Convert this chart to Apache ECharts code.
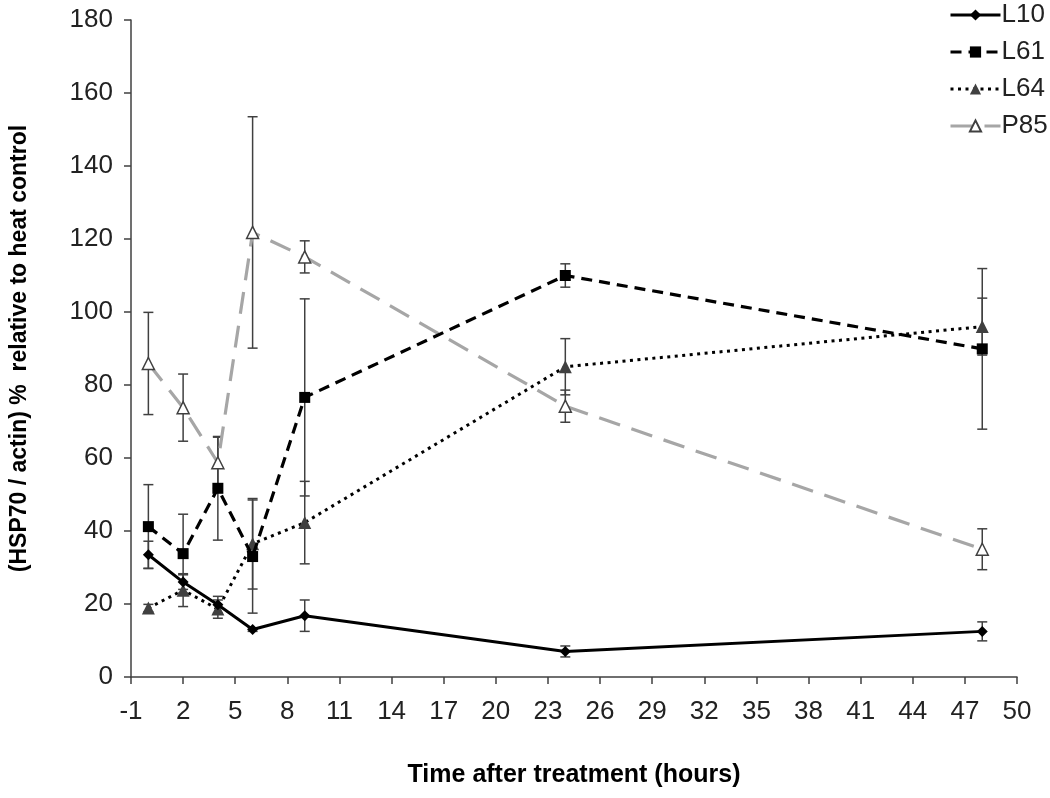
<!DOCTYPE html>
<html>
<head>
<meta charset="utf-8">
<script src="https://cdn.jsdelivr.net/npm/echarts@6/dist/echarts.min.js"></script>
<style>
html,body{margin:0;padding:0;background:#fff;}
#chart{width:1050px;height:798px;}
</style>
</head>
<body>
<div id="chart"></div>
<script>
// ---- data ----
var times = [0, 2, 4, 6, 9, 24, 48];
var xTicks = [-1, 2, 5, 8, 11, 14, 17, 20, 23, 26, 29, 32, 35, 38, 41, 44, 47, 50];
var L10 = [33.5, 26, 19.8, 13, 16.8, 7, 12.5];
var L10err = [3.7, 2, 2.3, 0.5, 4.3, 1.5, 2.6];
var L61 = [41.2, 33.8, 51.7, 33, 76.6, 110, 89.9];
var L61err = [11.5, 10.8, 14.2, 15.5, 27, 3.2, 22];
var L64 = [18.9, 23.8, 18.6, 36.5, 42.3, 85, 96];
var L64err = [1, 4.5, 2.5, 12.4, 11.3, 7.7, 7.8];
var P85 = [85.9, 73.8, 58.7, 121.8, 115.1, 74.2, 35];
var P85err = [14, 9.2, 7, 31.7, 4.4, 4.4, 5.6];
var seriesNames = ['L10', 'L61', 'L64', 'P85'];

function pts(vals) { return times.map(function (t, i) { return [t, vals[i]]; }); }
function errs(vals, e) { return times.map(function (t, i) { return [t, vals[i] - e[i], vals[i] + e[i]]; }); }

function errSeries(vals, e) {
  return {
    type: 'custom',
    data: errs(vals, e),
    encode: { x: 0, y: [1, 2] },
    silent: true,
    z: 1,
    renderItem: function (params, api) {
      var x = api.value(0);
      var lo = api.coord([x, api.value(1)]);
      var hi = api.coord([x, api.value(2)]);
      var w = 5;
      var st = { stroke: '#404040', lineWidth: 1.5, fill: null };
      return {
        type: 'group',
        children: [
          { type: 'line', shape: { x1: lo[0], y1: lo[1], x2: hi[0], y2: hi[1] }, style: st },
          { type: 'line', shape: { x1: lo[0] - w, y1: lo[1], x2: lo[0] + w, y2: lo[1] }, style: st },
          { type: 'line', shape: { x1: hi[0] - w, y1: hi[1], x2: hi[0] + w, y2: hi[1] }, style: st }
        ]
      };
    }
  };
}

var chart = echarts.init(document.getElementById('chart'), null, { renderer: 'canvas' });
var axisText = { color: '#222', fontSize: 26, fontFamily: 'Liberation Sans, Arial, sans-serif' };
var option = {
  animation: false,
  backgroundColor: '#fff',
  grid: { left: 130, right: 33, top: 20, bottom: 121, containLabel: false },
  legend: {
    orient: 'vertical',
    left: 944,
    top: -3,
    itemWidth: 50,
    itemHeight: 14,
    itemGap: 11,
    lineStyle: { width: 3 },
    textStyle: { color: '#222', fontSize: 26, fontFamily: 'Liberation Sans, Arial, sans-serif', padding: [0, 0, 0, -4] },
    data: seriesNames
  },
  xAxis: {
    type: 'value',
    min: -1,
    max: 50,
    name: 'Time after treatment (hours)',
    nameLocation: 'middle',
    nameGap: 86,
    nameTextStyle: { color: '#000', fontSize: 25, fontWeight: 'bold', fontFamily: 'Liberation Sans Narrow, Arial Narrow, Liberation Sans, sans-serif' },
    axisLine: { show: true, onZero: false, lineStyle: { color: '#404040', width: 1.5 } },
    axisTick: { show: true, length: 7, customValues: xTicks, lineStyle: { color: '#404040', width: 1.5 } },
    axisLabel: Object.assign({ margin: 22, customValues: xTicks }, axisText),
    splitLine: { show: false }
  },
  yAxis: {
    type: 'value',
    min: 0,
    max: 180,
    interval: 20,
    name: '(HSP70 / actin) %  relative to heat control',
    nameLocation: 'middle',
    nameGap: 100,
    nameTextStyle: { color: '#000', fontSize: 23, fontWeight: 'bold', fontFamily: 'Liberation Sans Narrow, Arial Narrow, Liberation Sans, sans-serif' },
    axisLine: { show: true, onZero: false, lineStyle: { color: '#404040', width: 1.5 } },
    axisTick: { show: true, length: 7, lineStyle: { color: '#404040', width: 1.5 } },
    axisLabel: Object.assign({ margin: 18 }, axisText),
    splitLine: { show: false }
  },
  series: [
    errSeries(L10, L10err),
    errSeries(L61, L61err),
    errSeries(L64, L64err),
    errSeries(P85, P85err),
    {
      name: 'L10', type: 'line', data: pts(L10), z: 5,
      symbol: 'diamond', symbolSize: 11,
      itemStyle: { color: '#000' },
      lineStyle: { color: '#000', width: 3, type: 'solid' }
    },
    {
      name: 'L61', type: 'line', data: pts(L61), z: 4,
      symbol: 'rect', symbolSize: 11,
      itemStyle: { color: '#000' },
      lineStyle: { color: '#000', width: 3.2, type: [11, 7] }
    },
    {
      name: 'L64', type: 'line', data: pts(L64), z: 3,
      symbol: 'triangle', symbolSize: 13,
      itemStyle: { color: '#404040' },
      lineStyle: { color: '#000', width: 3, type: [3, 4.5] }
    },
    {
      name: 'P85', type: 'line', data: pts(P85), z: 2,
      symbol: 'triangle', symbolSize: 12,
      itemStyle: { color: '#fff', borderColor: '#404040', borderWidth: 1.5 },
      lineStyle: { color: '#a6a6a6', width: 3.2, type: [22, 12] }
    }
  ]
};
chart.setOption(option);
</script>
</body>
</html>
